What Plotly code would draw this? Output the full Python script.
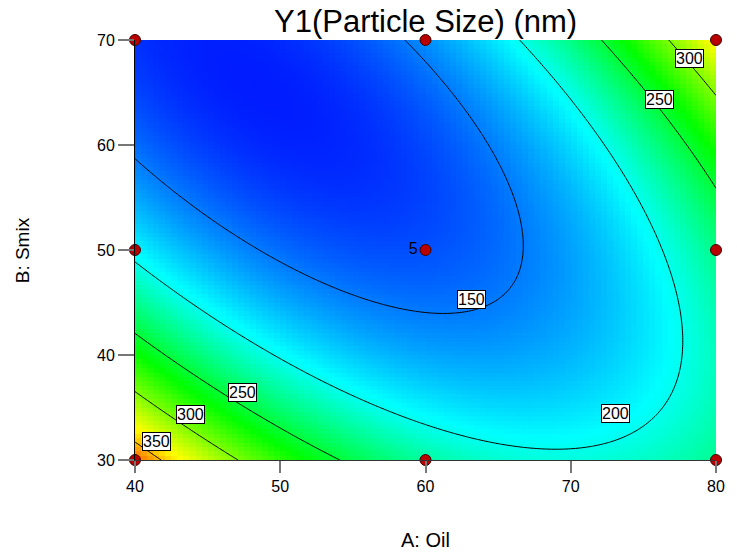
import numpy as np
import plotly.graph_objects as go

# ---- data ----
# points where each contour line crosses / passes (A: Oil, B: Smix, level)
contour_A = [40, 58.5, 60.9, 66.8, 48.1, 62.3,
             40, 66.4, 77.9, 68.0, 55.4, 76.9, 71.4,
             40, 52.5, 72.0, 80, 76.1,
             40, 46.3, 76.6, 80,
             40, 41.8]
contour_B = [58, 70, 44.3, 50, 50, 62.4,
             48.6, 70, 42.7, 32.5, 36.5, 48.1, 62.4,
             42.1, 30, 70, 56, 64.3,
             36.9, 30, 70, 64.6,
             32.4, 30]
contour_Z = [150, 150, 150, 150, 150, 150,
             200, 200, 200, 200, 200, 200, 200,
             250, 250, 250, 250, 250,
             300, 300, 300, 300,
             350, 350]

# design points
design_A = [40, 60, 80, 40, 60, 80, 40, 60, 80]
design_B = [30, 30, 30, 50, 50, 50, 70, 70, 70]
design_text = ["", "", "", "", "5", "", "", "", ""]

# contour label positions and texts
label_A = [63.2, 73.1, 47.4, 76.1, 43.8, 78.2, 41.5]
label_B = [45.3, 34.4, 36.4, 64.3, 34.3, 68.2, 31.75]
label_T = ["150", "200", "250", "250", "300", "300", "350"]

x_ticks = [40, 50, 60, 70, 80]
y_ticks = [30, 40, 50, 60, 70]

# ---- quadratic response-surface fit through the read contour points ----
def coded(A, B):
    a = (np.asarray(A, float) - 60) / 20
    b = (np.asarray(B, float) - 50) / 20
    return a, b

def design_matrix(A, B):
    a, b = coded(A, B)
    return np.column_stack([np.ones_like(a), a, b, a * b, a * a, b * b])

coef, *_ = np.linalg.lstsq(design_matrix(contour_A, contour_B),
                           np.asarray(contour_Z, float), rcond=None)

def model(A, B):
    shp = np.shape(A)
    return (design_matrix(np.ravel(A), np.ravel(B)) @ coef).reshape(shp)

# heatmap grid (bin edges + centres)
n = 96
xe = np.linspace(40, 80, n + 1)
ye = np.linspace(30, 70, n + 1)
xc = (xe[:-1] + xe[1:]) / 2
yc = (ye[:-1] + ye[1:]) / 2
XC, YC = np.meshgrid(xc, yc)
Zh = model(XC, YC)

# contour grid
xf = np.linspace(40, 80, 241)
yf = np.linspace(30, 70, 241)
XF, YF = np.meshgrid(xf, yf)
Zf = model(XF, YF)

cmin, cmax = 115.0, 390.0
stops = [(115, "rgb(0,20,255)"), (195, "rgb(0,255,255)"), (265, "rgb(0,255,0)"),
         (335, "rgb(255,255,0)"), (390, "rgb(255,0,0)")]
colorscale = [[(v - cmin) / (cmax - cmin), c] for v, c in stops]

FONT = "Liberation Sans, Arial"

fig = go.Figure()
fig.add_trace(go.Heatmap(x=xe, y=ye, z=Zh, colorscale=colorscale, zmin=cmin, zmax=cmax,
                         showscale=False, zsmooth=False, hoverinfo="skip"))
fig.add_trace(go.Contour(x=xf, y=yf, z=Zf, showscale=False,
                         contours=dict(start=150, end=350, size=50, coloring="none"),
                         line=dict(color="black", width=1), hoverinfo="skip"))
fig.add_trace(go.Scatter(x=design_A, y=design_B, mode="markers+text", text=design_text,
                         textposition="middle left",
                         textfont=dict(family=FONT, size=16, color="black"),
                         marker=dict(size=11, color="#b80000", line=dict(color="#400000", width=1)),
                         cliponaxis=False, showlegend=False, hoverinfo="skip"))

for xa, yb, t in zip(label_A, label_B, label_T):
    fig.add_annotation(x=xa, y=yb, text=t, showarrow=False,
                       font=dict(family=FONT, size=16, color="black"),
                       bgcolor="white", bordercolor="black", borderwidth=1, borderpad=0)

axis_font = dict(family=FONT, size=16, color="black")
fig.update_xaxes(range=[40, 80], tickvals=x_ticks, ticks="outside", ticklen=12,
                 tickcolor="#777777", tickwidth=2, showgrid=False, zeroline=False,
                 showline=True, linecolor="#333333", linewidth=1, tickfont=axis_font)
fig.update_yaxes(range=[30, 70], tickvals=y_ticks, ticks="outside", ticklen=16,
                 tickcolor="#777777", tickwidth=2, showgrid=False, zeroline=False,
                 showline=True, linecolor="black", linewidth=1, tickfont=axis_font)

fig.add_annotation(x=0.5, y=1.0, xref="paper", yref="paper", yanchor="bottom",
                   text="Y1(Particle Size) (nm)", showarrow=False, yshift=-1,
                   font=dict(family=FONT, size=31, color="black"))
fig.add_annotation(x=0.5, y=-0.19, xref="paper", yref="paper", yanchor="middle",
                   text="A: Oil", showarrow=False,
                   font=dict(family=FONT, size=20, color="black"))
fig.add_annotation(x=-0.194, y=0.5, xref="paper", yref="paper", xanchor="center",
                   text="B: Smix", showarrow=False, textangle=-90,
                   font=dict(family=FONT, size=19, color="black"))

fig.update_layout(width=737, height=554, margin=dict(l=135, r=18, t=40, b=94),
                  paper_bgcolor="white", plot_bgcolor="white", showlegend=False)

fig.write_html("out.html")
